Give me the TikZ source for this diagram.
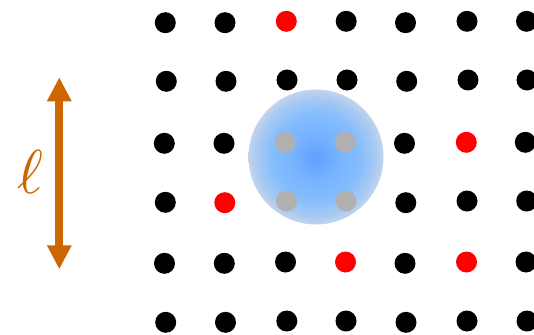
\documentclass[tikz,border=0pt]{standalone}
\usetikzlibrary{arrows.meta}
\definecolor{arrorange}{RGB}{204,102,0}
\definecolor{dotred}{RGB}{255,0,0}
\definecolor{dotgray}{RGB}{176,176,176}
\pgfdeclareradialshading{blobshade}{\pgfpointorigin}{%
  rgb(0bp)=(0.38,0.62,1.0);
  rgb(8bp)=(0.46,0.70,1.0);
  rgb(16bp)=(0.52,0.74,0.99);
  rgb(22bp)=(0.66,0.79,0.95);
  rgb(25bp)=(0.76,0.83,0.93);
  rgb(50bp)=(0.76,0.83,0.93)}
\tikzset{
  dot/.style={circle,fill=black,inner sep=0pt,minimum size=21pt},
  reddot/.style={dot,fill=dotred},
  graydot/.style={dot,fill=dotgray},
  lenarrow/.style={arrorange,line width=8pt,{Triangle[width=23pt,length=24pt]}-{Triangle[width=23pt,length=24pt]}}
}
\begin{document}
\begin{tikzpicture}[x=1pt,y=-1pt]
\useasboundingbox (0,0) rectangle (534,334);
% blue blob
\shade[shading=blobshade] (316,157) circle (67.5);
% row 1
\node[dot] (d11) at (165.3,22.7) {};
\node[dot] (d12) at (225,22.7) {};
\node[reddot] (d13) at (286.3,21.3) {};
\node[dot] (d14) at (346.2,21.3) {};
\node[dot] (d15) at (405.5,22.7) {};
\node[dot] (d16) at (467,21.3) {};
\node[dot] (d17) at (526.5,21.3) {};
% row 2
\node[dot] (d21) at (166.3,81.3) {};
\node[dot] (d22) at (226,81.3) {};
\node[dot] (d23) at (287,80) {};
\node[dot] (d24) at (347,80) {};
\node[dot] (d25) at (406.7,81.3) {};
\node[dot] (d26) at (468,80) {};
\node[dot] (d27) at (527,80) {};
% row 3
\node[dot] (d31) at (164.3,143.3) {};
\node[dot] (d32) at (224,143.3) {};
\node[graydot] (d33) at (285.3,142.3) {};
\node[graydot] (d34) at (345,142.3) {};
\node[dot] (d35) at (404.5,143.3) {};
\node[reddot] (d36) at (466.3,142.3) {};
\node[dot] (d37) at (525.3,142.3) {};
% row 4
\node[dot] (d41) at (165.3,202.3) {};
\node[reddot] (d42) at (224.8,202.7) {};
\node[graydot] (d43) at (286.5,201) {};
\node[graydot] (d44) at (346,201) {};
\node[dot] (d45) at (405.8,202.7) {};
\node[dot] (d46) at (467,201) {};
\node[dot] (d47) at (526.7,201) {};
% row 5
\node[dot] (d51) at (164.5,263.3) {};
\node[dot] (d52) at (224.3,263.3) {};
\node[dot] (d53) at (285.5,262) {};
\node[reddot] (d54) at (345.5,262) {};
\node[dot] (d55) at (405,263.3) {};
\node[reddot] (d56) at (466.5,262) {};
\node[dot] (d57) at (526,262) {};
% row 6
\node[dot] (d61) at (165.7,322.3) {};
\node[dot] (d62) at (225.5,322.3) {};
\node[dot] (d63) at (286.8,321) {};
\node[dot] (d64) at (346,321) {};
\node[dot] (d65) at (406,322.3) {};
\node[dot] (d66) at (467,321) {};
\node[dot] (d67) at (527,321) {};
% length arrow
\coordinate (atop) at (59.3,77.3);
\coordinate (abot) at (59.3,269.3);
\draw[lenarrow] (atop) -- (abot);
\node[text=arrorange,inner sep=0pt] (ell) at (30,172) {\scalebox{6.2}{$\ell$}};
\end{tikzpicture}
\end{document}
